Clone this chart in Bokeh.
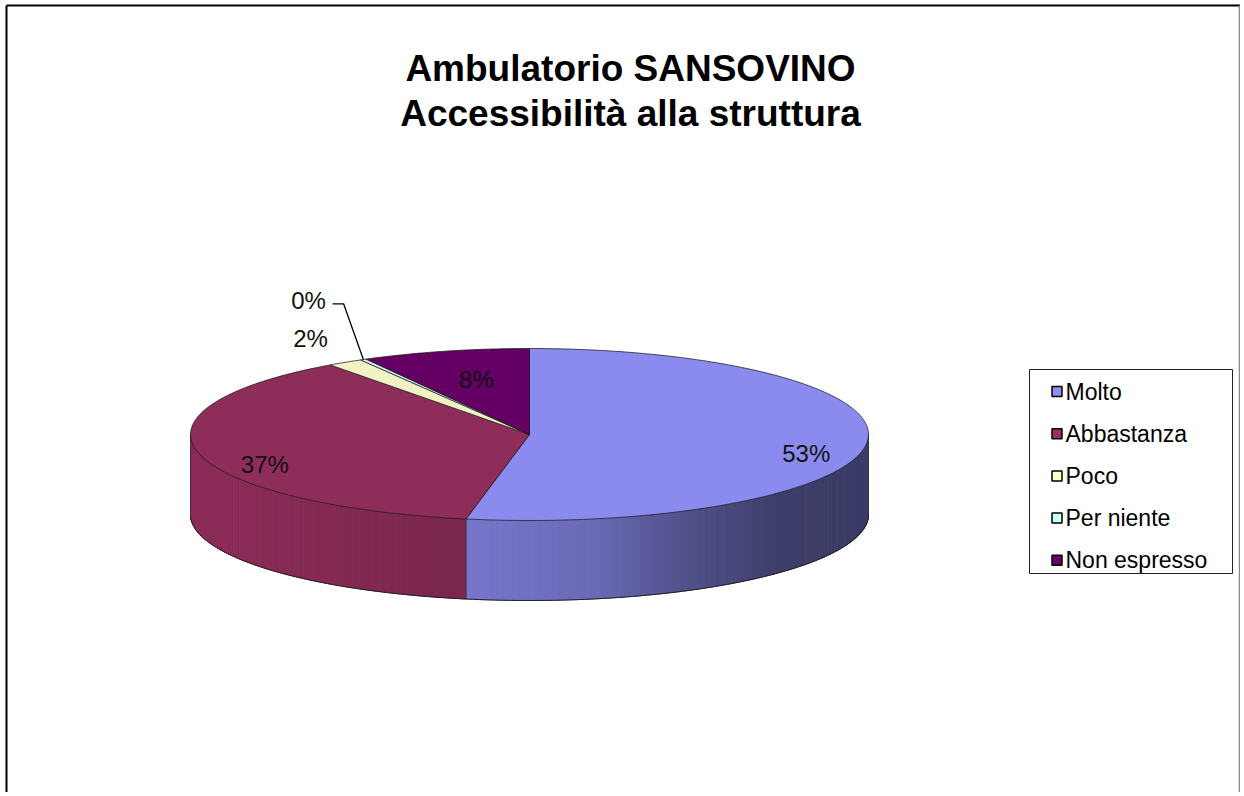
import numpy as np
from bokeh.plotting import figure
from bokeh.models import Range1d
from bokeh.core.properties import value
from bokeh.embed import file_html
from bokeh.resources import INLINE

# ---- data ----
title_lines = ["Ambulatorio SANSOVINO", "Accessibilità alla struttura"]
categories = ["Molto", "Abbastanza", "Poco", "Per niente", "Non espresso"]
percent = [53.0, 37.0, 1.7, 0.3, 8.0]

# ---- style ----
top_colors = ["#8B8BEF", "#8F2D5A", "#F2F2C4", "#CCF4F4", "#640064"]
legend_colors = ["#9090F0", "#953060", "#FFFFC8", "#CCFFFF", "#660066"]
FONT = value("Liberation Sans")

W, H = 1240, 792
CX, CY, A, B, DEPTH = 529.0, 434.0, 339.0, 86.0, 80.0
# label placement (radial factor, vertical offset)
label_r = [0.82, 0.80, 1.188, 1.33, 0.63]
label_dy = [12, 15, -10, -34, -3]

# shading of the side wall as a function of horizontal position
shade_x = [0.0, 0.41, 0.60, 0.68, 0.78, 0.87, 1.0]
shade_f = [0.98, 0.85, 0.76, 0.64, 0.53, 0.44, 0.43]


def ell(theta_deg, r=1.0):
    t = np.radians(theta_deg)
    return CX + A * r * np.sin(t), CY - B * r * np.cos(t)


def hex2rgb(h):
    h = h.lstrip("#")
    return [int(h[i:i + 2], 16) for i in (0, 2, 4)]


def rgb2hex(c):
    return "#%02x%02x%02x" % tuple(int(max(0, min(255, round(v)))) for v in c)


p = figure(width=W, height=H, x_range=Range1d(0, W), y_range=Range1d(H, 0),
           output_backend="svg", toolbar_location=None, min_border=0,
           x_axis_location=None, y_axis_location=None)
p.grid.visible = False
p.outline_line_color = None
p.background_fill_color = "white"
p.border_fill_color = "white"

vals = np.array(percent, dtype=float)
frac = vals / vals.sum()
ends = np.cumsum(frac) * 360.0
starts = np.concatenate([[0.0], ends[:-1]])

# ---- side walls (front half only) ----
sx, sy, sc = [], [], []
for i in range(len(vals)):
    lo, hi = max(starts[i], 90.0), min(ends[i], 270.0)
    if hi <= lo:
        continue
    base = np.array(hex2rgb(top_colors[i]), dtype=float)
    angs = np.linspace(lo, hi, max(2, int((hi - lo) / 0.5) + 1))
    for a0, a1 in zip(angs[:-1], angs[1:]):
        x0, y0 = ell(a0)
        x1, y1 = ell(a1)
        xm = (x0 + x1) / 2
        f = np.interp((xm - (CX - A)) / (2 * A), shade_x, shade_f)
        col = rgb2hex(base * f)
        sx.append([x0, x1, x1, x0])
        sy.append([y0, y1, y1 + DEPTH, y0 + DEPTH])
        sc.append(col)
p.patches(sx, sy, fill_color=sc, line_color=sc, line_width=1)

# side outline
ang = np.linspace(90, 270, 200)
bx, by = ell(ang)
p.line(bx, by + DEPTH, line_color="#222222", line_width=1)
for a_edge in [90.0, 270.0] + [e for e in starts[1:] if 90 < e < 270]:
    ex, ey = ell(a_edge)
    p.line([ex, ex], [ey, ey + DEPTH], line_color="#333333", line_width=0.8, line_alpha=0.8)

# ---- top faces ----
tx, ty = [], []
for i in range(len(vals)):
    angs = np.linspace(starts[i], ends[i], max(2, int((ends[i] - starts[i]) / 0.5) + 2))
    xs, ys = ell(angs)
    tx.append([CX] + list(xs))
    ty.append([CY] + list(ys))
p.patches(tx, ty, fill_color=top_colors, line_color="#1a1a1a", line_width=0.9, line_alpha=0.85)

# ---- data labels ----
lx, ly, lt = [], [], []
mids = (starts + ends) / 2
for i in range(len(vals)):
    x, y = ell(mids[i], label_r[i])
    lx.append(x)
    ly.append(y + label_dy[i])
    lt.append(f"{int(round(vals[i]))}%")
p.text(lx, ly, text=lt, text_font=FONT, text_font_size="24px", text_align="center",
       text_baseline="middle", text_color="#111111")

# leader line for the tiny slice
k = 3
px_, py_ = ell(mids[k])
p.line([lx[k] + 24, lx[k] + 35, px_], [ly[k] + 3, ly[k] + 3, py_], line_color="black", line_width=1.3)

# ---- title ----
p.text([630, 630], [68, 113], text=title_lines, text_font=FONT, text_font_size="37px",
       text_font_style="bold", text_align="center", text_baseline="alphabetic", text_color="black")

# ---- legend ----
p.quad(left=[1029], right=[1232], top=[369], bottom=[573], fill_color="white",
       line_color="#222222", line_width=1)
leg_y = [391 + 42.2 * i for i in range(len(categories))]
p.rect([1056.5] * len(categories), leg_y, width=10, height=10, fill_color=legend_colors,
       line_color="black", line_width=1.5)
p.text([1065] * len(categories), leg_y, text=categories, text_font=FONT, text_font_size="23px",
       text_align="left", text_baseline="middle", text_color="black")

# ---- chart border ----
p.line([6, 6], [H, 5], line_color="black", line_width=2)
p.line([6, 1241], [5, 5], line_color="black", line_width=2)
p.line([1239, 1239], [5, H], line_color="#888888", line_width=1.5)

open("out.html", "w").write(file_html(p, INLINE))
